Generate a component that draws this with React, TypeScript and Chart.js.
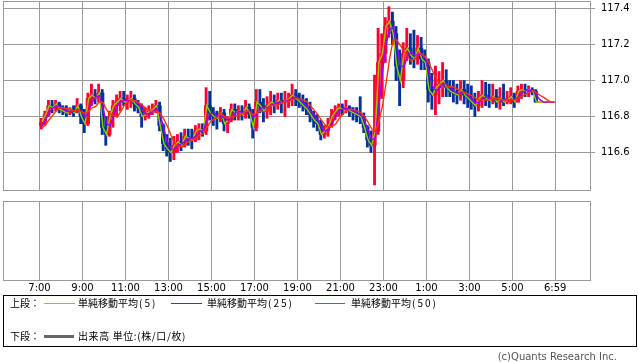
import React, { useEffect, useRef } from "react";
import { Chart, registerables } from "chart.js";
Chart.register(...registerables);

// 10-minute buckets from 7:00 to 6:59 (minute offsets from 7:00)
const bucketMinutes = 10;

const opens = [
  116.75, 116.77, 116.81, 116.86, 116.85, 116.87, 116.84, 116.83, 116.82, 116.84, 116.83, 116.86,
  116.80, 116.76, 116.90, 116.92, 116.90, 116.93, 116.74, 116.70, 116.80, 116.86, 116.88, 116.90,
  116.88, 116.89, 116.90, 116.87, 116.85, 116.80, 116.81, 116.83, 116.84, 116.86, 116.75, 116.65,
  116.62, 116.60, 116.64, 116.66, 116.64, 116.69, 116.68, 116.67, 116.72, 116.73, 116.72, 116.86,
  116.82, 116.80, 116.79, 116.82, 116.76, 116.78, 116.84, 116.82, 116.83, 116.81, 116.85, 116.82,
  116.74, 116.88, 116.86, 116.83, 116.86, 116.88, 116.87, 116.89, 116.88, 116.89, 116.90, 116.92,
  116.90, 116.88, 116.86, 116.84, 116.81, 116.78, 116.76, 116.70, 116.72, 116.75, 116.80, 116.83,
  116.85, 116.84, 116.85, 116.83, 116.82, 116.81, 116.80, 116.74, 116.67, 116.64, 116.72, 117.10,
  117.15, 117.30, 117.33, 117.26, 117.08, 117.00, 117.15, 117.18, 117.14, 117.12, 117.18, 117.12,
  117.10, 116.95, 116.92, 116.96, 116.98, 117.00, 116.96, 116.94, 116.93, 116.92, 116.95, 116.92,
  116.90, 116.88, 116.86, 116.90, 116.92, 116.90, 116.89, 116.91, 116.88, 116.90, 116.88, 116.89,
  116.91, 116.88, 116.94, 116.95, 116.94, 116.95, 116.94, 116.88, 116.88, 116.88, 116.88, 116.88,
];
const highs = [
  116.79, 116.83, 116.89, 116.89, 116.89, 116.88, 116.86, 116.86, 116.85, 116.86, 116.90, 116.87,
  116.84, 116.93, 116.98, 116.95, 116.98, 116.95, 116.80, 116.83, 116.89, 116.92, 116.94, 116.94,
  116.92, 116.94, 116.92, 116.89, 116.87, 116.85, 116.86, 116.87, 116.89, 116.88, 116.76, 116.70,
  116.68, 116.69, 116.70, 116.71, 116.73, 116.73, 116.73, 116.75, 116.76, 116.76, 116.96, 116.94,
  116.85, 116.83, 116.85, 116.84, 116.80, 116.87, 116.87, 116.86, 116.86, 116.89, 116.87, 116.84,
  116.95, 116.95, 116.90, 116.91, 116.94, 116.92, 116.93, 116.93, 116.94, 116.93, 116.98, 116.95,
  116.93, 116.92, 116.90, 116.88, 116.83, 116.81, 116.78, 116.75, 116.79, 116.84, 116.86, 116.87,
  116.87, 116.89, 116.86, 116.85, 116.85, 116.91, 116.82, 116.75, 116.72, 117.03, 117.29, 117.26,
  117.35, 117.41, 117.38, 117.30, 117.17, 117.21, 117.29, 117.26, 117.28, 117.25, 117.24, 117.17,
  117.12, 117.04, 117.08, 117.05, 117.10, 117.06, 117.00, 117.00, 116.98, 117.00, 117.00, 116.98,
  116.97, 116.93, 116.94, 117.00, 116.99, 116.98, 116.98, 116.95, 116.96, 116.98, 116.94, 116.96,
  116.93, 116.97, 116.98, 116.98, 116.97, 116.96, 116.95, 116.88, 116.88, 116.88, 116.88, 116.88,
];
const lows = [
  116.73, 116.75, 116.80, 116.82, 116.83, 116.82, 116.81, 116.80, 116.81, 116.80, 116.82, 116.76,
  116.71, 116.75, 116.86, 116.87, 116.88, 116.70, 116.64, 116.69, 116.74, 116.80, 116.83, 116.86,
  116.84, 116.85, 116.83, 116.82, 116.74, 116.78, 116.79, 116.81, 116.82, 116.72, 116.61, 116.58,
  116.55, 116.56, 116.60, 116.61, 116.63, 116.64, 116.62, 116.66, 116.67, 116.69, 116.70, 116.78,
  116.75, 116.73, 116.77, 116.72, 116.71, 116.77, 116.78, 116.78, 116.78, 116.79, 116.79, 116.68,
  116.72, 116.82, 116.77, 116.79, 116.81, 116.82, 116.84, 116.82, 116.80, 116.85, 116.86, 116.86,
  116.85, 116.83, 116.81, 116.77, 116.74, 116.72, 116.67, 116.68, 116.69, 116.74, 116.78, 116.80,
  116.81, 116.82, 116.80, 116.78, 116.77, 116.76, 116.71, 116.63, 116.60, 116.42, 116.70, 116.90,
  117.10, 117.24, 117.20, 117.00, 116.86, 116.96, 117.11, 117.09, 117.07, 117.09, 117.06, 117.06,
  116.88, 116.84, 116.81, 116.87, 116.91, 116.91, 116.91, 116.88, 116.87, 116.89, 116.87, 116.85,
  116.84, 116.80, 116.83, 116.85, 116.86, 116.85, 116.87, 116.85, 116.84, 116.86, 116.87, 116.87,
  116.85, 116.88, 116.90, 116.91, 116.91, 116.92, 116.88, 116.88, 116.88, 116.88, 116.88, 116.88,
];
const closes = [
  116.77, 116.81, 116.86, 116.85, 116.87, 116.84, 116.83, 116.82, 116.84, 116.82, 116.86, 116.80,
  116.76, 116.90, 116.92, 116.90, 116.93, 116.74, 116.70, 116.80, 116.86, 116.88, 116.90, 116.88,
  116.89, 116.90, 116.87, 116.85, 116.80, 116.81, 116.83, 116.84, 116.86, 116.75, 116.65, 116.62,
  116.60, 116.64, 116.66, 116.64, 116.69, 116.68, 116.67, 116.72, 116.73, 116.72, 116.86, 116.82,
  116.80, 116.79, 116.82, 116.76, 116.78, 116.84, 116.82, 116.83, 116.81, 116.85, 116.82, 116.74,
  116.88, 116.86, 116.83, 116.86, 116.88, 116.87, 116.89, 116.88, 116.89, 116.90, 116.92, 116.90,
  116.88, 116.86, 116.84, 116.81, 116.78, 116.76, 116.70, 116.72, 116.75, 116.80, 116.83, 116.85,
  116.84, 116.85, 116.83, 116.82, 116.81, 116.80, 116.74, 116.67, 116.64, 116.72, 117.10, 117.15,
  117.30, 117.33, 117.26, 117.08, 117.00, 117.15, 117.18, 117.14, 117.12, 117.18, 117.12, 117.10,
  116.95, 116.92, 116.96, 116.98, 117.00, 116.96, 116.94, 116.93, 116.92, 116.95, 116.92, 116.90,
  116.88, 116.86, 116.90, 116.92, 116.90, 116.89, 116.91, 116.88, 116.90, 116.88, 116.89, 116.91,
  116.88, 116.94, 116.95, 116.94, 116.95, 116.94, 116.88, 116.88, 116.88, 116.88, 116.88, 116.88,
];
// closes of the buckets before 7:00 (only feed the moving averages)
const priorCloses = [116.72, 116.72, 116.72, 116.73, 116.74];
const volumeValues: number[] = [];

const yTickValues = [116.6, 116.8, 117.0, 117.2, 117.4];
const yTickLabels = ["116.6", "116.8", "117.0", "117.2", "117.4"];
const xTickMinutes = [0, 120, 240, 360, 480, 600, 720, 840, 960, 1080, 1200, 1320, 1439];
const xTickLabels = ["7:00", "9:00", "11:00", "13:00", "15:00", "17:00", "19:00", "21:00", "23:00", "1:00", "3:00", "5:00", "6:59"];

const X_MIN = -101.86;
const X_MAX = 1536.3;
const Y_MIN = 116.39167;
const Y_MAX = 117.44167;

const UP = "#ff0033";
const DOWN = "#003399";
const GRID = "#9a9a9a";

function sma(windowBuckets: number) {
  const series = [...priorCloses, ...closes];
  const off = priorCloses.length;
  return closes.map((_, i) => {
    let k = i + off;
    let rem = windowBuckets;
    let sum = 0;
    let ws = 0;
    while (rem > 0 && k >= 0) {
      const w = Math.min(1, rem);
      sum += series[k] * w;
      ws += w;
      rem -= w;
      k--;
    }
    return { x: i * bucketMinutes + 7, y: sum / ws };
  });
}

const framePlugin = {
  id: "frame",
  afterDraw(chart: any) {
    const { ctx, chartArea: a } = chart;
    const l = Math.round(a.left), t = Math.round(a.top), r = Math.round(a.right), b = Math.round(a.bottom);
    ctx.save();
    ctx.strokeStyle = GRID;
    ctx.lineWidth = 1;
    ctx.strokeRect(l + 0.5, t + 0.5, r - l, b - t);
    ctx.restore();
  },
};

const tickFont = { family: "'DejaVu Sans', sans-serif", size: 10 };

export default function App() {
  const c1 = useRef<HTMLCanvasElement>(null);
  const c2 = useRef<HTMLCanvasElement>(null);

  useEffect(() => {
    const colors = closes.map((c, i) => (c >= opens[i] ? UP : DOWN));
    const wicks = closes.map((_, i) => ({ x: i * bucketMinutes + 5, y: [lows[i], highs[i]] }));
    const bodies = closes.map((c, i) => ({ x: i * bucketMinutes + 5, y: [opens[i], c] }));

    const chart1 = new Chart(c1.current as HTMLCanvasElement, {
      type: "bar",
      data: {
        datasets: [
          { type: "line", label: "単純移動平均(5)", data: sma(0.5), borderColor: "#99cc00", borderWidth: 1.4, pointRadius: 0, order: 3 } as any,
          { type: "line", label: "単純移動平均(25)", data: sma(2.5), borderColor: "#9900ff", borderWidth: 1.4, pointRadius: 0, order: 2 } as any,
          { type: "line", label: "単純移動平均(50)", data: sma(5), borderColor: "#ff3300", borderWidth: 1.4, pointRadius: 0, order: 1 } as any,
          { type: "bar", label: "wick", data: wicks, backgroundColor: colors, barThickness: 2.2, grouped: false, order: 11 } as any,
          { type: "bar", label: "body", data: bodies, backgroundColor: colors, barThickness: 3.6, grouped: false, order: 10 } as any,
        ],
      },
      options: {
        animation: false,
        responsive: false,
        devicePixelRatio: 1,
        events: [],
        layout: { padding: { left: 3, top: 1, right: 0, bottom: 2 } },
        plugins: { legend: { display: false }, tooltip: { enabled: false } },
        scales: {
          x: {
            type: "linear",
            min: X_MIN,
            max: X_MAX,
            offset: false,
            afterBuildTicks: (ax: any) => { ax.ticks = xTickMinutes.map((v) => ({ value: v })); },
            afterFit: (ax: any) => { ax.height = 0; ax.paddingLeft = 0; ax.paddingRight = 0; },
            ticks: { display: false, autoSkip: false },
            grid: { color: GRID, drawTicks: false, offset: false },
            border: { display: false },
          },
          y: {
            type: "linear",
            position: "right",
            min: Y_MIN,
            max: Y_MAX,
            afterBuildTicks: (ax: any) => { ax.ticks = yTickValues.map((v) => ({ value: v })); },
            afterFit: (ax: any) => { ax.width = 48; ax.paddingTop = 0; ax.paddingBottom = 0; },
            ticks: {
              font: tickFont,
              color: "#000",
              padding: 6,
              autoSkip: false,
              callback: (v: any) => {
                const i = yTickValues.findIndex((t) => Math.abs(t - Number(v)) < 1e-6);
                return i >= 0 ? yTickLabels[i] : "";
              },
            },
            grid: { color: GRID, tickLength: 5 },
            border: { display: false },
          },
        },
      } as any,
      plugins: [framePlugin],
    });

    const chart2 = new Chart(c2.current as HTMLCanvasElement, {
      type: "bar",
      data: { datasets: [{ label: "出来高", data: volumeValues, backgroundColor: "#666" } as any] },
      options: {
        animation: false,
        responsive: false,
        devicePixelRatio: 1,
        events: [],
        layout: { padding: { left: 3, top: 6, right: 0, bottom: 5 } },
        plugins: { legend: { display: false }, tooltip: { enabled: false } },
        scales: {
          x: {
            type: "linear",
            min: X_MIN,
            max: X_MAX,
            offset: false,
            afterBuildTicks: (ax: any) => { ax.ticks = xTickMinutes.map((v) => ({ value: v })); },
            afterFit: (ax: any) => { ax.height = 15; ax.paddingLeft = 0; ax.paddingRight = 0; },
            ticks: {
              font: tickFont,
              color: "#000",
              padding: 2,
              autoSkip: false,
              maxRotation: 0,
              callback: (v: any) => {
                const i = xTickMinutes.indexOf(Number(v));
                return i >= 0 ? xTickLabels[i] : "";
              },
            },
            grid: { color: GRID, drawTicks: false, offset: false },
            border: { display: false },
          },
          y: {
            position: "right",
            ticks: { display: false },
            grid: { display: false },
            border: { display: false },
            afterFit: (ax: any) => { ax.width = 48; ax.paddingTop = 0; ax.paddingBottom = 0; },
          },
        },
      } as any,
      plugins: [framePlugin],
    });

    return () => {
      chart1.destroy();
      chart2.destroy();
    };
  }, []);

  const cjk = "'Noto Sans CJK JP', 'Noto Sans', sans-serif";
  const txt = (left: number, top: number, s: string, paren?: string) => (
    <span style={{ position: "absolute", left, top, fontFamily: cjk, fontSize: 10, lineHeight: "12px", color: "#000", whiteSpace: "nowrap" }}>
      {s}
      {paren ? <span style={{ letterSpacing: 2, marginLeft: 1 }}>{paren}</span> : null}
    </span>
  );
  const line = (left: number, top: number, width: number, height: number, color: string) => (
    <div style={{ position: "absolute", left, top, width, height, background: color }} />
  );

  return (
    <div style={{ position: "absolute", left: 0, top: 0, width: 638, height: 362, background: "#fff", overflow: "hidden" }}>
      <canvas ref={c1} width={638} height={192} style={{ position: "absolute", left: 0, top: 0 }} />
      <canvas ref={c2} width={638} height={105} style={{ position: "absolute", left: 0, top: 195 }} />
      <div style={{ position: "absolute", left: 3, top: 295, width: 634, height: 52, boxSizing: "border-box", border: "1px solid #000" }} />
      {txt(10, 297, "上段：")}
      {line(44, 303, 31, 1, "#99cc00")}
      {txt(78, 297, "単純移動平均", "(5)")}
      {line(171, 303, 31, 1, "#9900ee")}
      {txt(207, 297, "単純移動平均", "(25)")}
      {line(315, 303, 30, 1, "#ff3300")}
      {txt(351, 297, "単純移動平均", "(50)")}
      {txt(10, 330, "下段：")}
      {line(44, 335, 30, 3, "#666")}
      <span style={{ position: "absolute", left: 78, top: 330, fontFamily: cjk, fontSize: 10, lineHeight: "12px", color: "#000", whiteSpace: "nowrap", letterSpacing: 0.6 }}>出来高 単位:(株/口/枚)</span>
      <span style={{ position: "absolute", right: 21, top: 351, fontFamily: "'DejaVu Sans', sans-serif", fontSize: 10, lineHeight: "12px", color: "#555", whiteSpace: "nowrap" }}>(c)Quants Research Inc.</span>
    </div>
  );
}
